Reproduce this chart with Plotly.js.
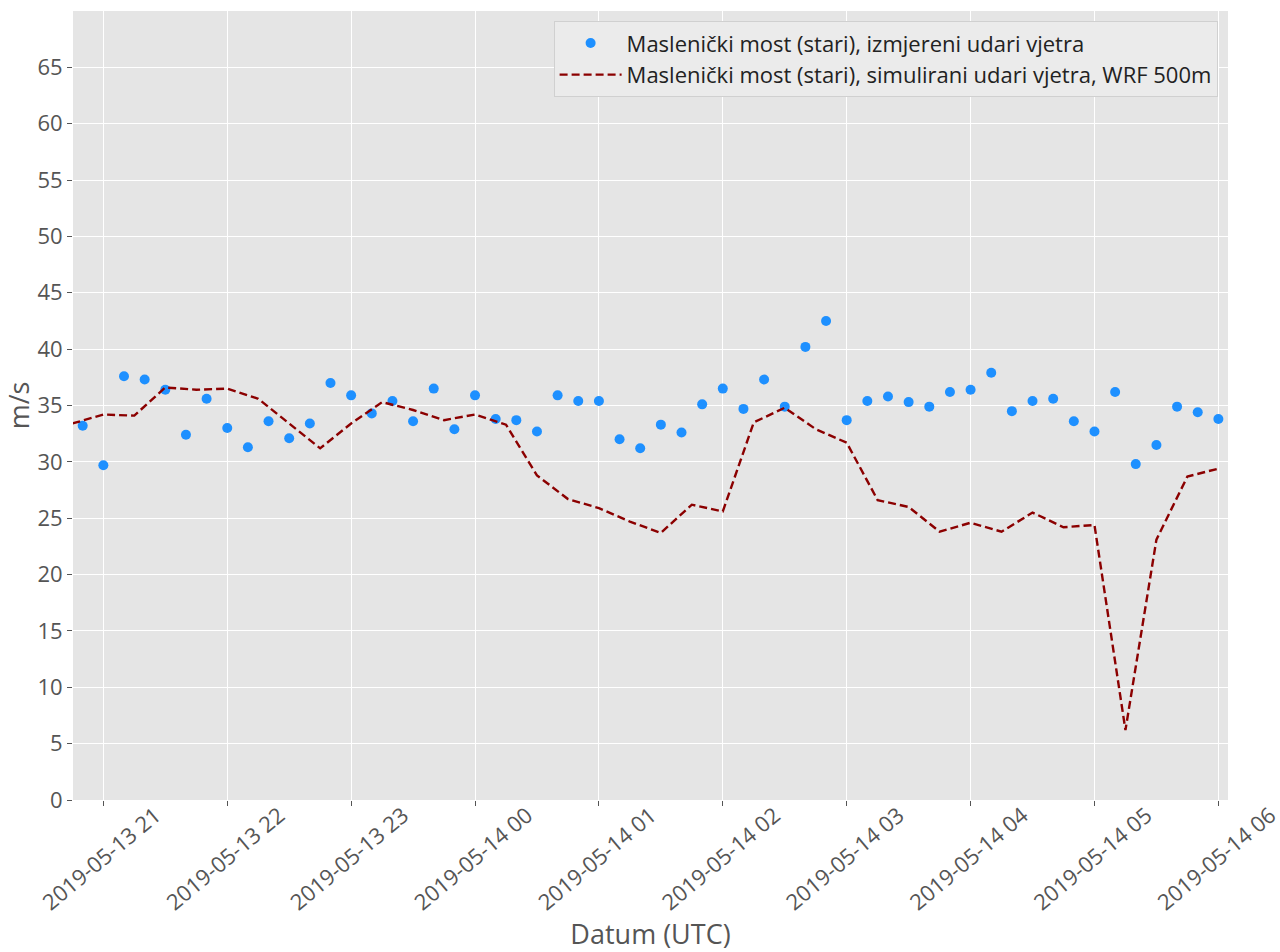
<!DOCTYPE html>
<html>
<head>
<meta charset="utf-8">
<script src="https://cdn.plot.ly/plotly-3.0.1.min.js"></script>
<style>html,body{margin:0;padding:0;background:#fff;}#chart{width:1280px;height:952px;}</style>
</head>
<body>
<div id="chart"></div>
<script>
const obsTimes = [
 '2019-05-13 20:50','2019-05-13 21:00','2019-05-13 21:10','2019-05-13 21:20','2019-05-13 21:30','2019-05-13 21:40','2019-05-13 21:50',
 '2019-05-13 22:00','2019-05-13 22:10','2019-05-13 22:20','2019-05-13 22:30','2019-05-13 22:40','2019-05-13 22:50',
 '2019-05-13 23:00','2019-05-13 23:10','2019-05-13 23:20','2019-05-13 23:30','2019-05-13 23:40','2019-05-13 23:50',
 '2019-05-14 00:00','2019-05-14 00:10','2019-05-14 00:20','2019-05-14 00:30','2019-05-14 00:40','2019-05-14 00:50',
 '2019-05-14 01:00','2019-05-14 01:10','2019-05-14 01:20','2019-05-14 01:30','2019-05-14 01:40','2019-05-14 01:50',
 '2019-05-14 02:00','2019-05-14 02:10','2019-05-14 02:20','2019-05-14 02:30','2019-05-14 02:40','2019-05-14 02:50',
 '2019-05-14 03:00','2019-05-14 03:10','2019-05-14 03:20','2019-05-14 03:30','2019-05-14 03:40','2019-05-14 03:50',
 '2019-05-14 04:00','2019-05-14 04:10','2019-05-14 04:20','2019-05-14 04:30','2019-05-14 04:40','2019-05-14 04:50',
 '2019-05-14 05:00','2019-05-14 05:10','2019-05-14 05:20','2019-05-14 05:30','2019-05-14 05:40','2019-05-14 05:50',
 '2019-05-14 06:00'
];
const obsGusts = [
 33.2, 29.7, 37.6, 37.3, 36.4, 32.4, 35.6,
 33.0, 31.3, 33.6, 32.1, 33.4, 37.0,
 35.9, 34.3, 35.4, 33.6, 36.5, 32.9,
 35.9, 33.8, 33.7, 32.7, 35.9, 35.4,
 35.4, 32.0, 31.2, 33.3, 32.6, 35.1,
 36.5, 34.7, 37.3, 34.9, 40.2, 42.5,
 33.7, 35.4, 35.8, 35.3, 34.9, 36.2,
 36.4, 37.9, 34.5, 35.4, 35.6, 33.6,
 32.7, 36.2, 29.8, 31.5, 34.9, 34.4,
 33.8
];
const simTimes = [
 '2019-05-13 20:45',
 '2019-05-13 21:00','2019-05-13 21:15','2019-05-13 21:30','2019-05-13 21:45',
 '2019-05-13 22:00','2019-05-13 22:15','2019-05-13 22:30','2019-05-13 22:45',
 '2019-05-13 23:00','2019-05-13 23:15','2019-05-13 23:30','2019-05-13 23:45',
 '2019-05-14 00:00','2019-05-14 00:15','2019-05-14 00:30','2019-05-14 00:45',
 '2019-05-14 01:00','2019-05-14 01:15','2019-05-14 01:30','2019-05-14 01:45',
 '2019-05-14 02:00','2019-05-14 02:15','2019-05-14 02:30','2019-05-14 02:45',
 '2019-05-14 03:00','2019-05-14 03:15','2019-05-14 03:30','2019-05-14 03:45',
 '2019-05-14 04:00','2019-05-14 04:15','2019-05-14 04:30','2019-05-14 04:45',
 '2019-05-14 05:00','2019-05-14 05:15','2019-05-14 05:30','2019-05-14 05:45',
 '2019-05-14 06:00'
];
const simGusts = [
 33.4,
 34.2, 34.1, 36.6, 36.4,
 36.5, 35.6, 33.4, 31.2,
 33.4, 35.3, 34.6, 33.7,
 34.2, 33.3, 28.8, 26.7,
 25.9, 24.7, 23.7, 26.2,
 25.6, 33.5, 34.8, 32.9,
 31.7, 26.6, 26.0, 23.8,
 24.6, 23.8, 25.5, 24.2,
 24.4, 6.2, 23.1, 28.7,
 29.4
];
const xTickVals = ['2019-05-13 21:00','2019-05-13 22:00','2019-05-13 23:00','2019-05-14 00:00','2019-05-14 01:00','2019-05-14 02:00','2019-05-14 03:00','2019-05-14 04:00','2019-05-14 05:00','2019-05-14 06:00'];
const xTickText = ['2019-05-13 21','2019-05-13 22','2019-05-13 23','2019-05-14 00','2019-05-14 01','2019-05-14 02','2019-05-14 03','2019-05-14 04','2019-05-14 05','2019-05-14 06'];
const yTickVals = [0,5,10,15,20,25,30,35,40,45,50,55,60,65];

const nameObs = 'Maslenički most (stari), izmjereni udari vjetra';
const nameSim = 'Maslenički most (stari), simulirani udari vjetra, WRF 500m';

const FONT = 'Open Sans, DejaVu Sans, sans-serif';

const traces = [
  {x: obsTimes, y: obsGusts, type: 'scatter', mode: 'markers', name: nameObs,
   marker: {color: '#1E90FF', size: 10}},
  {x: simTimes, y: simGusts, type: 'scatter', mode: 'lines', name: nameSim,
   line: {color: '#8B0000', width: 2.4, dash: '8px,4px'}}
];

const layout = {
  width: 1280, height: 952,
  margin: {l: 73, r: 52, t: 11, b: 152},
  paper_bgcolor: '#ffffff',
  plot_bgcolor: '#E5E5E5',
  font: {family: FONT, color: '#555555', size: 22},
  showlegend: true,
  legend: {x: 0.991, y: 0.987, xanchor: 'right', yanchor: 'top',
    bgcolor: '#EBEBEB', bordercolor: '#D0D0D0', borderwidth: 1,
    tracegroupgap: 4, itemwidth: 62,
    font: {family: FONT, size: 22, color: '#222222'}},
  xaxis: {
    type: 'date',
    range: ['2019-05-13 20:45:18', '2019-05-14 06:04:40'],
    tickmode: 'array', tickvals: xTickVals, ticktext: xTickText,
    tickangle: -40, ticklabelshift: 52, ticklabelstandoff: -12,
    ticklabeloverflow: 'allow',
    ticks: 'outside', ticklen: 5, tickcolor: '#555555', tickwidth: 1,
    showgrid: true, gridcolor: '#ffffff', gridwidth: 1,
    zeroline: false, showline: false,
    tickfont: {family: FONT, size: 22, color: '#555555'},
    title: {text: 'Datum (UTC)', font: {family: FONT, size: 27, color: '#555555'}, standoff: 6}
  },
  yaxis: {
    range: [0, 70],
    tickmode: 'array', tickvals: yTickVals,
    ticks: 'outside', ticklen: 5, tickcolor: '#555555', tickwidth: 1,
    showgrid: true, gridcolor: '#ffffff', gridwidth: 1,
    zeroline: false, showline: false,
    tickfont: {family: FONT, size: 22, color: '#555555'},
    title: {text: 'm/s', font: {family: FONT, size: 27, color: '#555555'}, standoff: 6}
  }
};

Plotly.newPlot('chart', traces, layout, {displayModeBar: false, staticPlot: true});
</script>
</body>
</html>
